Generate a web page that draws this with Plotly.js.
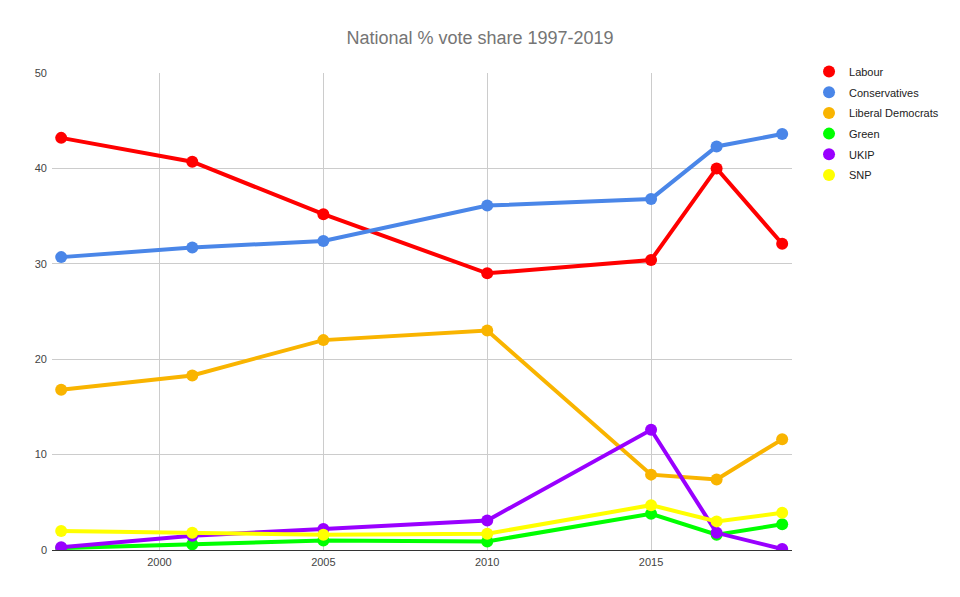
<!DOCTYPE html>
<html><head><meta charset="utf-8">
<script src="https://cdn.plot.ly/plotly-3.0.1.min.js"></script>
<style>html,body{margin:0;padding:0;background:#fff}#chart{width:960px;height:597px}</style>
</head><body><div id="chart"></div>
<script>
const years = [1997, 2001, 2005, 2010, 2015, 2017, 2019];
const labour = [43.2, 40.7, 35.2, 29.0, 30.4, 40.0, 32.1];
const conservatives = [30.7, 31.7, 32.4, 36.1, 36.8, 42.3, 43.6];
const libdems = [16.8, 18.3, 22.0, 23.0, 7.9, 7.4, 11.6];
const green = [0.2, 0.6, 1.0, 0.9, 3.8, 1.6, 2.7];
const ukip = [0.3, 1.5, 2.2, 3.1, 12.6, 1.8, 0.1];
const snp = [2.0, 1.8, 1.6, 1.7, 4.7, 3.0, 3.9];
const seriesNames = ["Labour", "Conservatives", "Liberal Democrats", "Green", "UKIP", "SNP"];
const seriesColors = ["#ff0000", "#4a86e8", "#f9b400", "#00ff00", "#9900ff", "#ffff00"];
const seriesData = [labour, conservatives, libdems, green, ukip, snp];

const traces = [];
seriesData.forEach((vals, i) => {
  traces.push({
    x: years, y: vals, type: 'scatter', mode: 'lines+markers',
    name: seriesNames[i], showlegend: false,
    line: {color: seriesColors[i], width: 4},
    marker: {color: seriesColors[i], size: 12},
    hoverinfo: 'x+y+name'
  });
});
seriesData.forEach((vals, i) => {
  traces.push({
    x: [null], y: [null], type: 'scatter', mode: 'markers',
    name: seriesNames[i], showlegend: true, legendgroup: 'g' + i,
    marker: {color: seriesColors[i], size: 13}
  });
});

const layout = {
  width: 960, height: 597,
  margin: {l: 52, r: 168, t: 73, b: 47},
  paper_bgcolor: '#fff', plot_bgcolor: '#fff',
  font: {family: 'Liberation Sans, Arial, sans-serif', size: 11, color: '#444'},
  title: {text: 'National % vote share 1997-2019', x: 0.5, xanchor: 'center', y: 0.937, yanchor: 'middle',
          font: {family: 'Liberation Sans, Arial, sans-serif', size: 18, color: '#757575'}},
  xaxis: {range: [1996.72, 2019.3], tickvals: [2000, 2005, 2010, 2015], ticktext: ['2000','2005','2010','2015'],
          showgrid: true, gridcolor: '#cccccc', gridwidth: 1, zeroline: false,
          showline: false, ticks: '', ticklabelstandoff: 4, tickfont: {size: 11, color: '#444'}, fixedrange: true},
  yaxis: {range: [0, 50], tickvals: [0, 10, 20, 30, 40, 50], showgrid: true, gridcolor: '#cccccc',
          zeroline: true, zerolinecolor: '#333333', zerolinewidth: 1, showline: false, ticks: '',
          ticklabelstandoff: 4, tickfont: {size: 11, color: '#444'}, fixedrange: true},
  legend: {x: 1.0230, xanchor: 'left', xref: 'paper', y: 1.0335, yanchor: 'top', yref: 'paper',
           bgcolor: 'rgba(0,0,0,0)', font: {size: 11, color: '#222'}, tracegroupgap: 1.7,
           itemsizing: 'constant', itemwidth: 30},
  showlegend: true
};
Plotly.newPlot('chart', traces, layout, {displayModeBar: false, staticPlot: true});
</script></body></html>
